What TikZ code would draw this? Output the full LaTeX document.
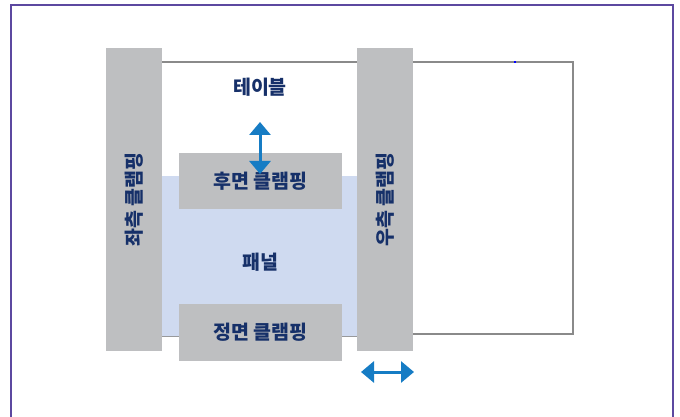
\documentclass[tikz,border=0pt]{standalone}
\usepackage{fontspec}
\setmainfont{Noto Sans CJK KR}
\usetikzlibrary{arrows.meta}
\definecolor{clampgray}{RGB}{190,191,193}
\definecolor{panelblue}{RGB}{207,218,240}
\definecolor{tablegray}{RGB}{138,138,138}
\definecolor{labelnavy}{RGB}{22,48,105}
\definecolor{arrowblue}{RGB}{22,124,196}
\definecolor{framepurple}{RGB}{92,72,160}
\tikzset{
  clamp/.style={fill=clampgray, inner sep=0pt, text=labelnavy,
    font=\fontsize{19.5}{22}\selectfont\bfseries},
  label/.style={text=labelnavy, inner sep=0pt,
    font=\fontsize{19.5}{22}\selectfont\bfseries},
  movearrow/.style={draw=arrowblue, line width=3pt,
    {Triangle[width=21pt,length=13pt]}-{Triangle[width=21pt,length=13pt]}}
}
\begin{document}
\begin{tikzpicture}[x=1pt,y=1pt,yscale=-1,xscale=1]
        \useasboundingbox (0,0) rectangle (680,417);
        %Frame
        \draw [framepurple, line width=1.5pt] (11,430) -- (11,5) -- (673,5) -- (673,430) ;
        %Table outline
        \draw [tablegray, line width=2pt] (162,62) -- (573,62) -- (573,334) -- (413,334) ;
        \fill [blue] (514,61) rectangle (516,63) ;
        %Panel
        \fill [panelblue] (162,176) rectangle (357,336) ;
        \draw [clampgray!80!black, line width=1pt] (162,336) -- (357,336) ;
        % Side clamps
        \node [clamp, minimum width=303pt, minimum height=56pt, rotate=90] (lclamp) at (134,199.5) {좌측 클램핑};
        \node [clamp, minimum width=303pt, minimum height=56pt, rotate=90] (rclamp) at (385,199.5) {우측 클램핑};
        % Rear and front clamps
        \node [clamp, minimum width=163pt, minimum height=56pt] (rear) at (260.5,181) {후면 클램핑};
        \node [clamp, minimum width=163pt, minimum height=57pt] (front) at (260.5,332.5) {정면 클램핑};
        % Text Node
        \node [label] (table) at (260,87) {테이블};
        % Text Node
        \node [label] (panel) at (260,262) {패널};
        % Move arrows
        \coordinate (vtop) at (260,122);
        \coordinate (vbot) at (260,174);
        \draw [movearrow] (vtop) -- (vbot) ;
        \coordinate (hleft) at (361,372);
        \coordinate (hright) at (414,372);
        \draw [movearrow] (hleft) -- (hright) ;
\end{tikzpicture}
\end{document}
